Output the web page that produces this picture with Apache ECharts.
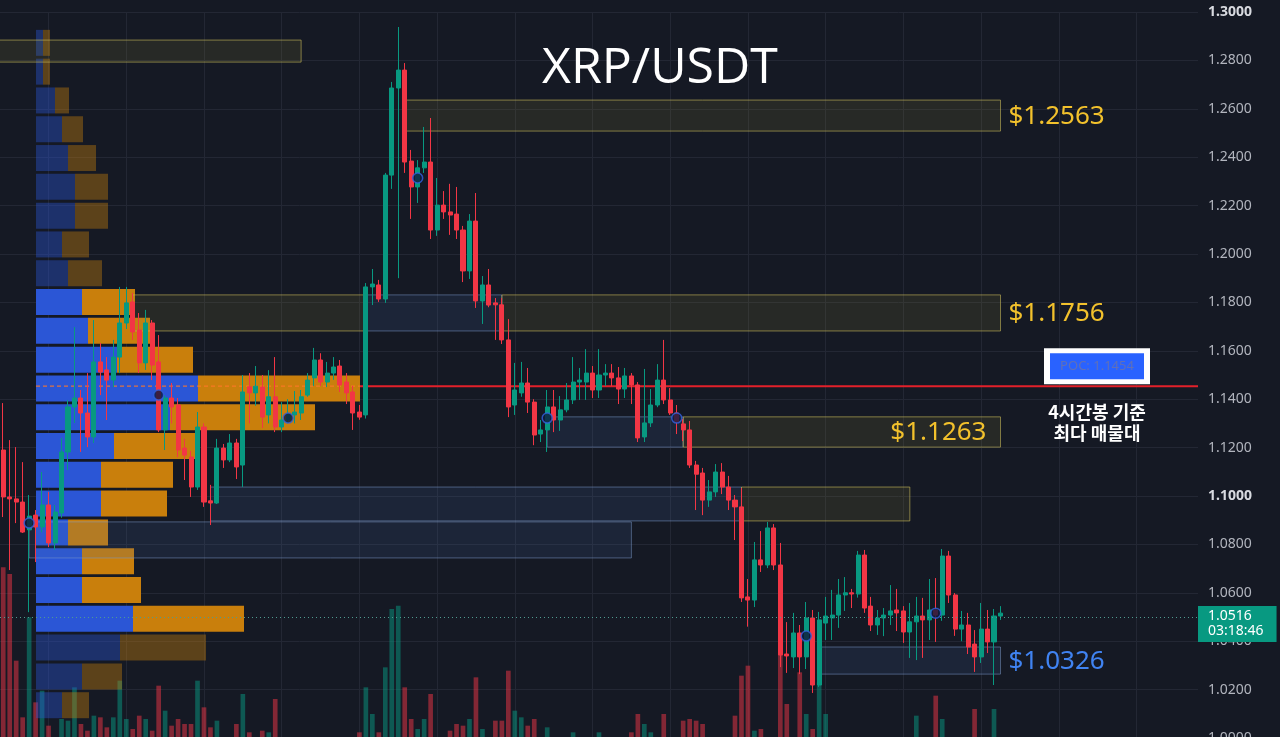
<!DOCTYPE html>
<html>
<head>
<meta charset="utf-8">
<title>XRP/USDT</title>
<script src="https://cdn.jsdelivr.net/npm/echarts@6.0.0/dist/echarts.min.js"></script>
<style>
html, body { margin: 0; padding: 0; background: #151924; }
#chart { width: 1280px; height: 737px; }
</style>
</head>
<body>
<div id="chart"></div>
<script>
// 4h candles: [open, close, low, high]
var candles = [
    [1.1190,1.0996,1.0913,1.1384],[1.0996,1.0988,1.0694,1.1231],[1.0988,1.0975,1.0888,1.1202],[1.0975,1.0851,1.0847,1.1140],
    [1.0860,1.0917,1.0520,1.1004],[1.0921,1.0872,1.0727,1.0942],[1.0872,1.0963,1.0850,1.1099],[1.0963,1.0806,1.0789,1.1017],
    [1.0806,1.0934,1.0777,1.0963],[1.0930,1.1182,1.0910,1.1240],[1.1182,1.1368,1.1107,1.1397],[1.1368,1.1405,1.1302,1.1698],
    [1.1405,1.1343,1.1182,1.1438],[1.1343,1.1244,1.1202,1.1508],[1.1244,1.1554,1.1219,1.1727],[1.1554,1.1512,1.1417,1.1632],
    [1.1521,1.1479,1.1314,1.1574],[1.1479,1.1574,1.1450,1.1645],[1.1574,1.1715,1.1508,1.1864],[1.1715,1.1798,1.1690,1.1864],
    [1.1802,1.1678,1.1645,1.1839],[1.1686,1.1550,1.1508,1.1756],[1.1550,1.1715,1.1521,1.1769],[1.1715,1.1541,1.1479,1.1727],
    [1.1554,1.1273,1.1264,1.1665],[1.1273,1.1405,1.1190,1.1417],[1.1405,1.1368,1.1300,1.1467],[1.1376,1.1190,1.1161,1.1405],
    [1.1198,1.1169,1.1066,1.1236],[1.1161,1.1037,1.0996,1.1186],[1.1037,1.1285,1.1025,1.1347],[1.1285,1.0975,1.0955,1.1300],
    [1.0980,1.0971,1.0880,1.1046],[1.0971,1.1198,1.0967,1.1236],[1.1198,1.1149,1.1116,1.1215],[1.1149,1.1219,1.1140,1.1256],
    [1.1219,1.1120,1.1070,1.1236],[1.1128,1.1430,1.1037,1.1500],[1.1451,1.1426,1.1300,1.1508],[1.1426,1.1454,1.1373,1.1537],
    [1.1450,1.1326,1.1281,1.1500],[1.1335,1.1410,1.1300,1.1520],[1.1410,1.1285,1.1264,1.1574],[1.1285,1.1314,1.1264,1.1388],
    [1.1314,1.1335,1.1300,1.1400],[1.1335,1.1347,1.1300,1.1434],[1.1343,1.1410,1.1314,1.1438],[1.1417,1.1479,1.1410,1.1508],
    [1.1488,1.1562,1.1455,1.1612],[1.1562,1.1471,1.1455,1.1590],[1.1471,1.1508,1.1450,1.1554],[1.1508,1.1533,1.1480,1.1574],
    [1.1537,1.1459,1.1430,1.1562],[1.1471,1.1426,1.1380,1.1508],[1.1430,1.1343,1.1273,1.1455],[1.1347,1.1326,1.1315,1.1376],
    [1.1335,1.1864,1.1320,1.1880],[1.1864,1.1876,1.1789,1.1938],[1.1872,1.1814,1.1802,1.1893],[1.1814,1.2326,1.1798,1.2335],
    [1.2326,1.2686,1.2269,1.2711],[1.2686,1.2760,1.1900,1.2938],[1.2760,1.2380,1.2335,1.2789],[1.2384,1.2277,1.2145,1.2430],
    [1.2277,1.2356,1.2211,1.2388],[1.2356,1.2380,1.2335,1.2525],[1.2380,1.2099,1.2062,1.2562],[1.2099,1.2202,1.2075,1.2314],
    [1.2202,1.2174,1.2145,1.2260],[1.2174,1.2161,1.2079,1.2290],[1.2165,1.2099,1.2062,1.2277],[1.2099,1.1930,1.1884,1.2116],
    [1.1930,1.2136,1.1897,1.2165],[1.2136,1.1806,1.1777,1.2252],[1.1806,1.1872,1.1711,1.1909],[1.1872,1.1789,1.1780,1.1938],
    [1.1798,1.1790,1.1645,1.1818],[1.1790,1.1645,1.1628,1.1818],[1.1645,1.1368,1.1326,1.1731],[1.1376,1.1438,1.1335,1.1550],
    [1.1426,1.1467,1.1410,1.1554],[1.1467,1.1388,1.1343,1.1529],[1.1388,1.1252,1.1210,1.1400],[1.1256,1.1273,1.1223,1.1314],
    [1.1273,1.1368,1.1182,1.1438],[1.1368,1.1314,1.1264,1.1438],[1.1314,1.1356,1.1269,1.1413],[1.1356,1.1397,1.1346,1.1467],
    [1.1397,1.1471,1.1380,1.1574],[1.1471,1.1479,1.1397,1.1529],[1.1471,1.1508,1.1397,1.1607],[1.1508,1.1438,1.1405,1.1537],
    [1.1438,1.1500,1.1405,1.1607],[1.1500,1.1508,1.1455,1.1545],[1.1508,1.1488,1.1455,1.1545],[1.1488,1.1442,1.1380,1.1533],
    [1.1442,1.1496,1.1405,1.1529],[1.1496,1.1459,1.1380,1.1508],[1.1459,1.1240,1.1223,1.1471],[1.1244,1.1302,1.1223,1.1525],
    [1.1302,1.1376,1.1285,1.1442],[1.1376,1.1479,1.1367,1.1545],[1.1479,1.1397,1.1380,1.1645],[1.1397,1.1343,1.1335,1.1446],
    [1.1343,1.1306,1.1256,1.1376],[1.1298,1.1273,1.1227,1.1318],[1.1273,1.1128,1.1116,1.1310],[1.1128,1.1090,1.0942,1.1145],
    [1.1095,1.0983,1.0921,1.1116],[1.0983,1.1017,1.0955,1.1066],[1.1017,1.1099,1.0996,1.1132],[1.1099,1.1037,1.1008,1.1136],
    [1.1037,1.0983,1.0942,1.1083],[1.0983,1.0955,1.0818,1.1004],[1.0955,1.0579,1.0562,1.1033],[1.0583,1.0570,1.0460,1.0657],
    [1.0570,1.0736,1.0541,1.0810],[1.0736,1.0715,1.0686,1.0855],[1.0715,1.0868,1.0702,1.0893],[1.0868,1.0715,1.0694,1.0884],
    [1.0715,1.0343,1.0293,1.0806],[1.0347,1.0339,1.0269,1.0479],[1.0335,1.0434,1.0289,1.0517],[1.0434,1.0335,1.0264,1.0467],
    [1.0335,1.0496,1.0285,1.0562],[1.0496,1.0219,1.0186,1.0529],[1.0219,1.0488,1.0211,1.0521],[1.0475,1.0504,1.0405,1.0583],
    [1.0496,1.0508,1.0405,1.0612],[1.0508,1.0591,1.0455,1.0657],[1.0591,1.0600,1.0525,1.0665],[1.0600,1.0595,1.0537,1.0616],
    [1.0595,1.0756,1.0580,1.0773],[1.0756,1.0537,1.0517,1.0777],[1.0545,1.0467,1.0442,1.0583],[1.0467,1.0496,1.0426,1.0529],
    [1.0496,1.0508,1.0421,1.0537],[1.0508,1.0525,1.0467,1.0632],[1.0529,1.0517,1.0442,1.0616],[1.0525,1.0438,1.0393,1.0545],
    [1.0438,1.0480,1.0331,1.0558],[1.0480,1.0504,1.0322,1.0583],[1.0504,1.0488,1.0331,1.0579],[1.0488,1.0529,1.0405,1.0657],
    [1.0529,1.0508,1.0397,1.0661],[1.0508,1.0752,1.0484,1.0781],[1.0752,1.0591,1.0558,1.0773],[1.0591,1.0450,1.0422,1.0599],
    [1.0450,1.0467,1.0400,1.0525],[1.0467,1.0376,1.0347,1.0517],[1.0388,1.0335,1.0273,1.0446],[1.0335,1.0450,1.0310,1.0558],
    [1.0450,1.0397,1.0351,1.0529],[1.0397,1.0504,1.0219,1.0533],[1.0504,1.0516,1.0488,1.0545]
];

// volume per candle (M XRP); the base of the pane sits just below the picture
var volumes = [
    106,102,50,16,76,25,32,11,4,15, 14,34,12,8,17,16,10,16,38,15,
    9,17,15,8,35,20,11,15,12,12, 38,22,10,14,4,4,12,30,7,4,
    8,7,27,4,4,4,4,4,4,4, 4,4,4,4,4,7,34,18,7,46,
    81,83,34,15,9,15,30,4,4,8, 12,11,15,40,9,4,14,14,44,20,
    16,11,15,4,10,4,4,4,7,4, 4,4,7,4,4,4,4,7,18,12,
    7,4,18,4,4,14,15,14,12,4, 4,4,4,17,41,47,8,9,4,4,
    54,24,4,43,18,9,37,18,4,4, 4,4,4,4,4,4,4,4,4,4,
    4,17,4,4,29,15,4,4,4,4, 21,4,4,21,4
];

var emptySlots = 30;           // space right of the last candle
var gridEvery = 12;            // a vertical grid line every 2 days
var gridFirst = 7;

// volume profile rows (low edge of each price row), buy and sell volume
var profileStep = 0.0119;
var profileLow = [1.2813,1.2694,1.2575,1.2456,1.2337,1.2218,1.2099,1.1980,1.1861,1.1742,1.1623,1.1504,
                  1.1385,1.1266,1.1147,1.1028,1.0909,1.0790,1.0671,1.0552,1.0433,1.0314,1.0195,1.0076];
var profileBuy  = [7,7,19,26,32,39,39,26,32,46,52,81,162,134,78,65,65,32,46,46,97,84,46,26];
var profileSell = [7,7,14,21,28,33,33,27,34,53,62,76,162,145,83,72,66,40,52,59,111,86,40,27];
var valueAreaHigh = 1.1861;
var valueAreaLow = 1.0433;
var pocPrice = 1.1454;

// support / resistance boxes (from candle index to candle index)
var zoneStart = [-1, 62, 20, 56, 77, 84, 105, 32, 114, 4, 126];
var zoneEnd   = [46, 154, 56, 77, 154, 105, 154, 114, 140, 97, 154];
var zoneLow   = [1.2793, 1.2508, 1.1682, 1.1682, 1.1682, 1.1202, 1.1202, 1.0897, 1.0897, 1.0744, 1.0264];
var zoneHigh  = [1.2884, 1.2636, 1.1831, 1.1831, 1.1831, 1.1327, 1.1327, 1.1037, 1.1037, 1.0893, 1.0376];
var zoneKind  = ['sell', 'sell', 'sell', 'buy', 'sell', 'buy', 'sell', 'buy', 'sell', 'buy', 'buy'];
var zoneLabel = ['', '$1.2563', '', '', '$1.1756', '', '$1.1263', '', '', '', '$1.0326'];
var zoneLabelInside = [false, false, false, false, false, false, true, false, false, false, false];

// pivot markers
var markerIdx   = [4, 24, 44, 64, 84, 104, 124, 144];
var markerPrice = [1.0888, 1.1417, 1.1322, 1.2314, 1.1322, 1.1322, 1.0421, 1.0516];

var lastPrice = 1.0516;
var countdown = '03:18:46';
var priceMin = 1.0, priceMax = 1.3, priceStep = 0.02;

var UP = '#089981', DOWN = '#f23645';

var categories = [];
for (var i = 0; i < candles.length + emptySlots; i++) {
    categories.push(String(i));
}

var volumeData = volumes.map(function(v, i) {
    var up = candles[i][1] >= candles[i][0];
    return { value: v, itemStyle: { color: up ? 'rgba(8,153,129,0.5)' : 'rgba(242,54,69,0.5)' } };
});

var profileData = profileLow.map(function(low, i) {
    return [low, profileBuy[i], profileSell[i]];
});

var zoneData = zoneStart.map(function(s, i) {
    return [s, zoneEnd[i], zoneLow[i], zoneHigh[i]];
});

var markerData = markerIdx.map(function(idx, i) {
    return [idx, markerPrice[i]];
});


function renderProfile(params, api) {
    var low = api.value(0), buy = api.value(1), sell = api.value(2);
    var top = api.coord([0, low + profileStep])[1] + 1.4;
    var bot = api.coord([0, low])[1] - 1.4;
    var x0 = api.coord([0, low])[0];
    var x1 = api.coord([buy, low])[0];
    var x2 = api.coord([buy + sell, low])[0];
    var inside = low >= valueAreaLow - 1e-6 && low + profileStep <= valueAreaHigh + 1e-6;
    var a = inside ? 1 : 0.4;
    var kids = [
        { type: 'rect', shape: { x: x0, y: top, width: x1 - x0, height: bot - top },
          style: { fill: 'rgba(43,86,214,' + a + ')' } },
        { type: 'rect', shape: { x: x1, y: top, width: x2 - x1, height: bot - top },
          style: { fill: 'rgba(201,127,12,' + a + ')' } }
    ];
    if (pocPrice >= low && pocPrice < low + profileStep) {
        var py = api.coord([0, pocPrice])[1];
        var right = params.coordSys.x + params.coordSys.width;
        var cx = right - 101;
        kids.push({ type: 'line', shape: { x1: x0, y1: py, x2: x2, y2: py },
            style: { stroke: 'rgba(255,120,40,0.85)', lineWidth: 1.2, lineDash: [4, 3] } });
        kids.push({ type: 'line', shape: { x1: x2, y1: py, x2: right, y2: py },
            style: { stroke: '#e3202a', lineWidth: 2 } });
        kids.push({ type: 'rect', shape: { x: cx - 53, y: py - 38, width: 106, height: 36 },
            style: { fill: '#ffffff' } });
        kids.push({ type: 'rect', shape: { x: cx - 47, y: py - 33, width: 94, height: 26 },
            style: { fill: '#2962ff' } });
        kids.push({ type: 'text', style: { text: 'POC: ' + pocPrice.toFixed(4), x: cx, y: py - 20,
            align: 'center', verticalAlign: 'middle', fill: '#6070b8', font: '13px "Noto Sans"' } });
        kids.push({ type: 'text', style: { text: '4시간봉 기준', x: cx, y: py + 26,
            align: 'center', verticalAlign: 'middle', fill: '#ffffff',
            font: 'bold 18px "Noto Sans CJK KR"' } });
        kids.push({ type: 'text', style: { text: '최다 매물대', x: cx, y: py + 47,
            align: 'center', verticalAlign: 'middle', fill: '#ffffff',
            font: 'bold 18px "Noto Sans CJK KR"' } });
    }
    return { type: 'group', children: kids };
}

function renderZone(params, api) {
    var i = params.dataIndex;
    var a = api.coord([api.value(0), api.value(3)]);
    var b = api.coord([api.value(1), api.value(2)]);
    var sell = zoneKind[i] === 'sell';
    var kids = [{
        type: 'rect',
        shape: { x: a[0], y: a[1], width: b[0] - a[0], height: b[1] - a[1] },
        style: {
            fill: sell ? 'rgba(150,140,60,0.14)' : 'rgba(70,105,160,0.16)',
            stroke: sell ? 'rgba(200,185,90,0.6)' : 'rgba(125,155,205,0.5)',
            lineWidth: 1
        }
    }];
    if (zoneLabel[i]) {
        var inside = zoneLabelInside[i];
        kids.push({
            type: 'text',
            style: {
                text: zoneLabel[i],
                x: inside ? b[0] - 14 : b[0] + 8,
                y: (a[1] + b[1]) / 2 + 1,
                align: inside ? 'right' : 'left',
                verticalAlign: 'middle',
                fill: sell ? '#f2c12c' : '#4083f2',
                font: '26px "Noto Sans"'
            }
        });
    }
    return { type: 'group', children: kids };
}


var chart = echarts.init(document.getElementById('chart'));

var option = {
    backgroundColor: '#151924',
    animation: false,
    title: {
        text: 'XRP/USDT',
        left: 537,
        top: 39,
        textStyle: { color: '#ffffff', fontSize: 50, fontWeight: 'normal', fontFamily: 'Open Sans' }
    },
    grid: [
        { left: 0, right: 82, top: 12, height: 726, outerBoundsMode: 'none' },     // price
        { left: 36, right: 82, top: 12, height: 726, outerBoundsMode: 'none' },    // volume profile
        { left: 0, right: 82, top: 444, height: 300, outerBoundsMode: 'none' }     // volume
    ],
    xAxis: [
        {
            type: 'category', gridIndex: 0, data: categories,
            axisLine: { show: false }, axisTick: { show: false }, axisLabel: { show: false },
            splitLine: {
                show: true, alignWithLabel: true,
                interval: function(idx) { return idx % gridEvery === gridFirst; },
                lineStyle: { color: '#232734', width: 1 }
            }
        },
        { type: 'value', gridIndex: 1, min: 0, max: 1162, show: false },
        { type: 'category', gridIndex: 2, data: categories, show: false },
        { type: 'value', gridIndex: 0, min: -0.5, max: categories.length - 0.5, show: false }
    ],
    yAxis: [
        {
            type: 'value', gridIndex: 0, position: 'right',
            min: priceMin, max: priceMax, interval: priceStep,
            axisLine: { show: false }, axisTick: { show: false },
            axisLabel: {
                color: '#b2b5be', fontSize: 14, fontFamily: 'Noto Sans', margin: 10,
                formatter: function(v) {
                    var s = v.toFixed(4);
                    return (s === '1.1000' || s === '1.3000') ? '{b|' + s + '}' : s;
                },
                rich: { b: { color: '#d8dae0', fontSize: 14, fontWeight: 'bold', fontFamily: 'Noto Sans' } }
            },
            splitLine: { show: true, lineStyle: { color: '#232734', width: 1 } }
        },
        { type: 'value', gridIndex: 1, min: priceMin, max: priceMax, show: false },
        { type: 'value', gridIndex: 2, min: 0, max: 180, show: false }
    ],
    series: [
        {
            name: 'Volume', type: 'bar', xAxisIndex: 2, yAxisIndex: 2,
            data: volumeData, barWidth: '72%', z: 1
        },
        {
            name: 'Profile', type: 'custom', xAxisIndex: 1, yAxisIndex: 1,
            data: profileData, encode: { x: 1, y: 0 }, renderItem: renderProfile, z: 2
        },
        {
            name: 'Zones', type: 'custom', xAxisIndex: 3, yAxisIndex: 0,
            data: zoneData, encode: { x: [0, 1], y: [2, 3] }, renderItem: renderZone, z: 3
        },
        {
            name: 'XRP/USDT', type: 'candlestick', xAxisIndex: 0, yAxisIndex: 0,
            data: candles, barWidth: '70%', z: 4,
            itemStyle: { color: UP, color0: DOWN, borderColor: UP, borderColor0: DOWN, borderWidth: 1 },
            markLine: {
                silent: true, symbol: ['none', 'none'],
                lineStyle: { type: [1, 3], color: '#4f9b90', width: 1 },
                label: {
                    show: true, position: 'end', distance: 0, offset: [0, 7],
                    formatter: lastPrice.toFixed(4) + '\n' + countdown,
                    color: '#ffffff', backgroundColor: UP, fontSize: 14, lineHeight: 15,
                    fontFamily: 'Noto Sans', padding: [3, 13, 3, 10], align: 'left'
                },
                data: [{ yAxis: lastPrice }]
            }
        },
        {
            name: 'Pivots', type: 'scatter', xAxisIndex: 0, yAxisIndex: 0,
            data: markerData, symbol: 'circle', symbolSize: 10, z: 5,
            itemStyle: { color: '#0f1a3d', borderColor: '#3262e0', borderWidth: 1.5 }
        }
    ]
};

chart.setOption(option);
</script>
</body>
</html>
